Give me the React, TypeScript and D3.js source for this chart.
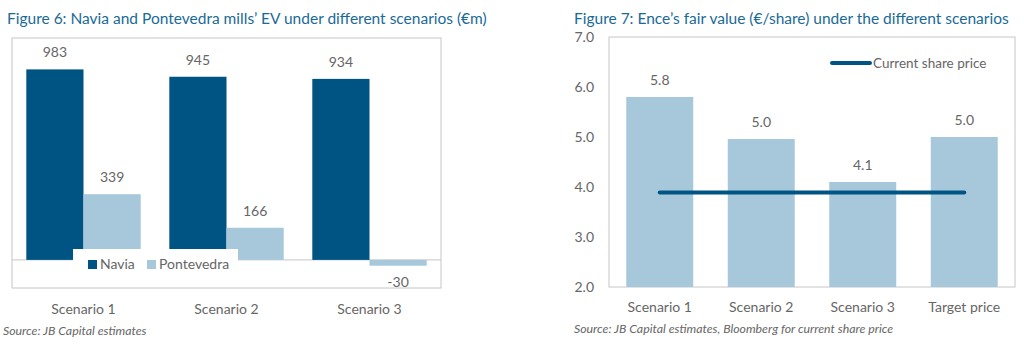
import { useEffect, useRef } from "react";
import * as d3 from "d3";

const scenarios = ["Scenario 1", "Scenario 2", "Scenario 3"];
const navia = [983, 945, 934];
const pontevedra = [339, 166, -30];

const fvCategories = ["Scenario 1", "Scenario 2", "Scenario 3", "Target price"];
const fairValue = [5.8, 4.96, 4.1, 5.0];
const currentPrice = 3.89;
const fvTicks = [2, 3, 4, 5, 6, 7];

const DARK = "#005483";
const LIGHT = "#a6c8da";
const GRID = "#c6c6c6";
const TEXT = "#666666";
const TITLE = "#1a6a96";
const FONT = "Lato, 'Open Sans', sans-serif";

export default function App() {
    const svgRef = useRef<SVGSVGElement>(null);

    useEffect(() => {
        if (!svgRef.current) return;
        const svg = d3.select(svgRef.current);
        svg.selectAll("*").remove();
        svg.attr("font-family", FONT);

        // ---------- Figure 6 ----------
        const f6 = { left: 12, right: 441, top: 38, bottom: 288 };
        svg.append("text").attr("x", 7).attr("y", 24).attr("fill", TITLE).attr("font-size", 15.5)
            .text("Figure 6: Navia and Pontevedra mills\u2019 EV under different scenarios (\u20acm)");

        svg.append("rect").attr("x", f6.left).attr("y", f6.top)
            .attr("width", f6.right - f6.left).attr("height", f6.bottom - f6.top)
            .attr("fill", "none").attr("stroke", GRID).attr("stroke-width", 1);

        const x6 = d3.scaleBand().domain(scenarios).range([f6.left, f6.right]).paddingInner(0.2).paddingOuter(0.1);
        const y6 = d3.scaleLinear().domain([-145, 1145]).range([f6.bottom, f6.top]);
        const sub = d3.scaleBand().domain(["navia", "pont"]).range([0, x6.bandwidth()]);

        svg.append("line").attr("x1", f6.left).attr("x2", f6.right)
            .attr("y1", y6(0)).attr("y2", y6(0)).attr("stroke", GRID).attr("stroke-width", 1);

        const series = [
            { key: "navia", values: navia, color: DARK },
            { key: "pont", values: pontevedra, color: LIGHT },
        ];
        series.forEach((s) => {
            s.values.forEach((v, i) => {
                const bx = (x6(scenarios[i]) as number) + (sub(s.key) as number);
                svg.append("rect").attr("x", bx).attr("width", sub.bandwidth())
                    .attr("y", y6(Math.max(0, v))).attr("height", Math.abs(y6(v) - y6(0)))
                    .attr("fill", s.color);
                svg.append("text").attr("x", bx + sub.bandwidth() / 2)
                    .attr("y", v >= 0 ? y6(v) - 12 : y6(v) + 21)
                    .attr("text-anchor", "middle").attr("fill", TEXT).attr("font-size", 14)
                    .text(String(v));
            });
        });

        // legend
        const lg = svg.append("g").attr("transform", "translate(73,249)");
        lg.append("rect").attr("width", 165).attr("height", 24).attr("fill", "#fff");
        [
            { label: "Navia", color: DARK, x: 15 },
            { label: "Pontevedra", color: LIGHT, x: 74 },
        ].forEach((d) => {
            lg.append("rect").attr("x", d.x).attr("y", 11).attr("width", 9).attr("height", 9).attr("fill", d.color);
            lg.append("text").attr("x", d.x + 12).attr("y", 20).attr("fill", TEXT).attr("font-size", 14).text(d.label);
        });

        svg.append("g").selectAll("text").data(scenarios).join("text")
            .attr("x", (d) => (x6(d) as number) + x6.bandwidth() / 2)
            .attr("y", 314).attr("text-anchor", "middle").attr("fill", TEXT).attr("font-size", 14)
            .text((d) => d);

        svg.append("text").attr("x", 3).attr("y", 335).attr("fill", TEXT).attr("font-size", 12.3)
            .attr("font-style", "italic").text("Source: JB Capital estimates");

        // ---------- Figure 7 ----------
        const f7 = { left: 609, right: 1015, top: 37, bottom: 287 };
        svg.append("text").attr("x", 574).attr("y", 24).attr("fill", TITLE).attr("font-size", 15.5)
            .text("Figure 7: Ence\u2019s fair value (\u20ac/share) under the different scenarios");

        svg.append("rect").attr("x", f7.left).attr("y", f7.top)
            .attr("width", f7.right - f7.left).attr("height", f7.bottom - f7.top)
            .attr("fill", "none").attr("stroke", GRID).attr("stroke-width", 1);

        const x7 = d3.scaleBand().domain(fvCategories).range([f7.left, f7.right]).paddingInner(0.34).paddingOuter(0.17);
        const y7 = d3.scaleLinear().domain([2, 7]).range([f7.bottom, f7.top]);

        svg.append("g").selectAll("text").data(fvTicks).join("text")
            .attr("x", 594).attr("y", (d) => y7(d) + 5).attr("text-anchor", "end")
            .attr("fill", TEXT).attr("font-size", 14).text((d) => d.toFixed(1));

        fairValue.forEach((v, i) => {
            const bx = x7(fvCategories[i]) as number;
            svg.append("rect").attr("x", bx).attr("width", x7.bandwidth())
                .attr("y", y7(v)).attr("height", y7(2) - y7(v)).attr("fill", LIGHT);
            svg.append("text").attr("x", bx + x7.bandwidth() / 2).attr("y", y7(v) - 12)
                .attr("text-anchor", "middle").attr("fill", TEXT).attr("font-size", 14)
                .text(v.toFixed(1));
        });

        const cx = (c: string) => (x7(c) as number) + x7.bandwidth() / 2;
        svg.append("line")
            .attr("x1", cx(fvCategories[0])).attr("x2", cx(fvCategories[fvCategories.length - 1]))
            .attr("y1", y7(currentPrice)).attr("y2", y7(currentPrice))
            .attr("stroke", DARK).attr("stroke-width", 4).attr("stroke-linecap", "round");

        svg.append("line").attr("x1", 832).attr("x2", 870).attr("y1", 63).attr("y2", 63)
            .attr("stroke", DARK).attr("stroke-width", 4).attr("stroke-linecap", "round");
        svg.append("text").attr("x", 873).attr("y", 68).attr("fill", TEXT).attr("font-size", 13.5)
            .text("Current share price");

        svg.append("g").selectAll("text").data(fvCategories).join("text")
            .attr("x", (d) => cx(d)).attr("y", 312).attr("text-anchor", "middle")
            .attr("fill", TEXT).attr("font-size", 14).text((d) => d);

        svg.append("text").attr("x", 574).attr("y", 333).attr("fill", TEXT).attr("font-size", 12.3)
            .attr("font-style", "italic").text("Source: JB Capital estimates, Bloomberg for current share price");
    }, []);

    return (
        <svg ref={svgRef} width={1024} height={352}
            style={{ position: "absolute", left: 0, top: 0, background: "#fff" }} />
    );
}
